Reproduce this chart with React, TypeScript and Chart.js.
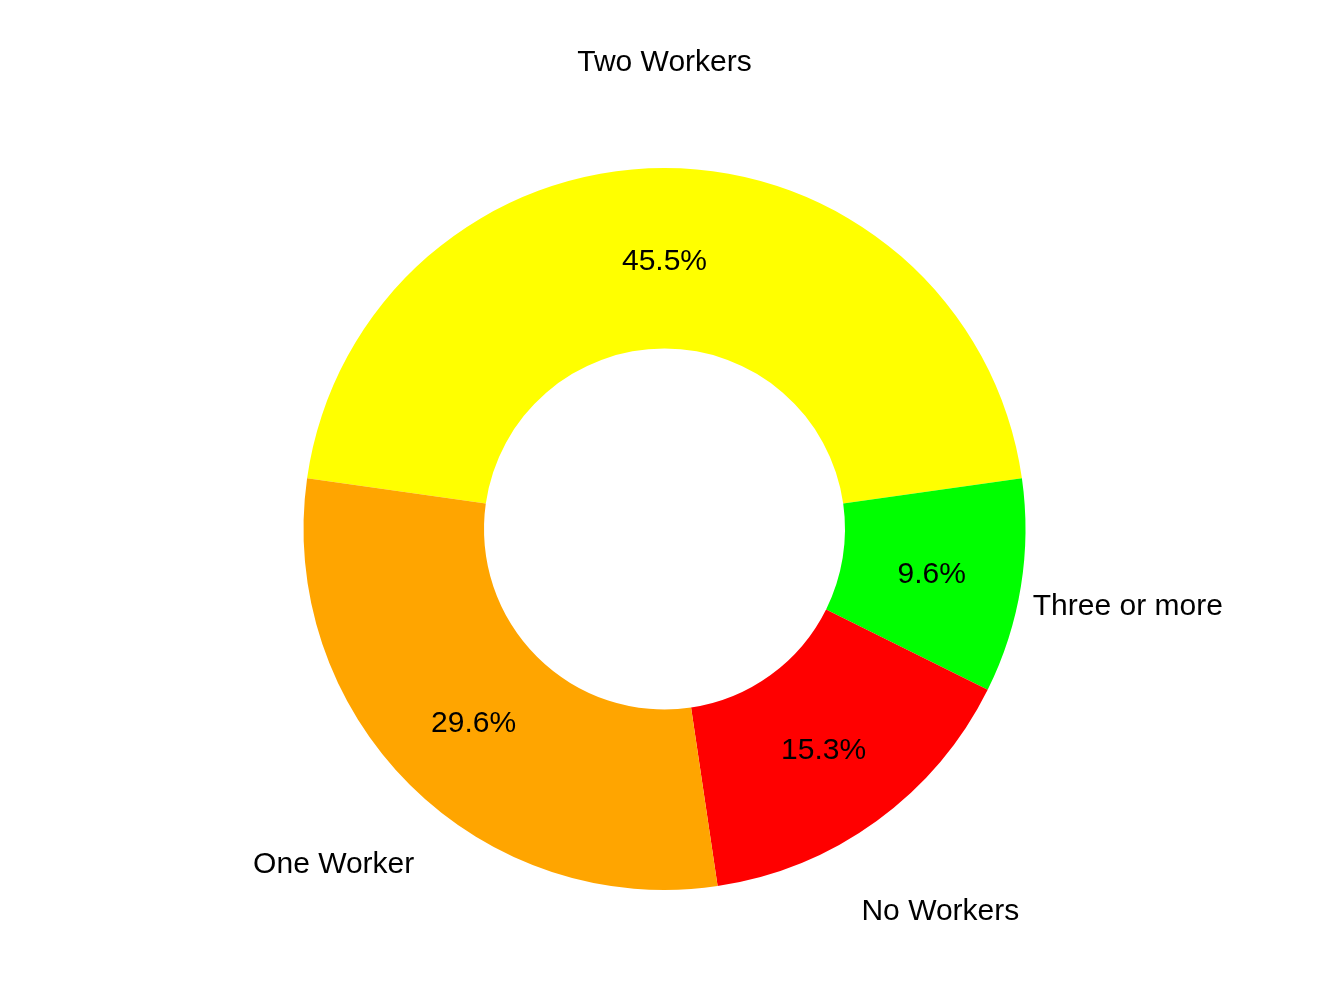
import React, { useRef, useEffect } from 'react';
import { Chart, ChartConfiguration, Plugin } from 'chart.js/auto';

const categories = ['Two Workers', 'Three or more', 'No Workers', 'One Worker'];
const shares = [45.5, 9.6, 15.3, 29.6];
const percentLabels = ['45.5%', '9.6%', '15.3%', '29.6%'];
const sliceColors = ['#FFFF00', '#00FF00', '#FF0000', '#FFA500'];

const labelFont = '30px "Liberation Sans", Arial, sans-serif';

// draws the percentages in the ring and the category names outside it
const sliceLabels: Plugin<'doughnut'> = {
  id: 'sliceLabels',
  afterDatasetsDraw(chart) {
    const ctx = chart.ctx;
    const meta = chart.getDatasetMeta(0);
    ctx.save();
    ctx.font = labelFont;
    ctx.fillStyle = '#000000';
    ctx.textAlign = 'center';
    ctx.textBaseline = 'middle';
    meta.data.forEach((el: any, i: number) => {
      const { x, y, startAngle, endAngle, innerRadius, outerRadius } = el.getProps(
        ['x', 'y', 'startAngle', 'endAngle', 'innerRadius', 'outerRadius'],
        true
      );
      const mid = (startAngle + endAngle) / 2;
      const rIn = (innerRadius + outerRadius) / 2;
      ctx.fillText(percentLabels[i], x + Math.cos(mid) * rIn, y + Math.sin(mid) * rIn + 3);
      const rOut = outerRadius * 1.3;
      ctx.fillText(categories[i], x + Math.cos(mid) * rOut, y + Math.sin(mid) * rOut + 3);
    });
    ctx.restore();
  },
};

const App: React.FC = () => {
  const chartRef = useRef<HTMLCanvasElement | null>(null);
  const chartInstanceRef = useRef<Chart | null>(null);

  useEffect(() => {
    document.body.style.margin = '0';
    if (!chartRef.current) return;
    const ctx = chartRef.current.getContext('2d');
    if (!ctx) return;
    if (chartInstanceRef.current) {
      chartInstanceRef.current.destroy();
    }
    const config: ChartConfiguration<'doughnut'> = {
      type: 'doughnut',
      data: {
        labels: categories,
        datasets: [
          {
            data: shares,
            backgroundColor: sliceColors,
            borderWidth: 0,
          },
        ],
      },
      options: {
        responsive: false,
        animation: false,
        cutout: '50%',
        rotation: -(shares[0] * 3.6) / 2,
        layout: {
          padding: { top: 168, bottom: 118, left: 303, right: 318 },
        },
        plugins: {
          legend: { display: false },
          tooltip: { enabled: false },
        },
      },
      plugins: [sliceLabels],
    };
    chartInstanceRef.current = new Chart(ctx, config);
    return () => {
      if (chartInstanceRef.current) {
        chartInstanceRef.current.destroy();
        chartInstanceRef.current = null;
      }
    };
  }, []);

  return (
    <div style={{ width: '1344px', height: '1008px', background: '#ffffff' }}>
      <canvas ref={chartRef} width={1344} height={1008} />
    </div>
  );
};

export default App;
